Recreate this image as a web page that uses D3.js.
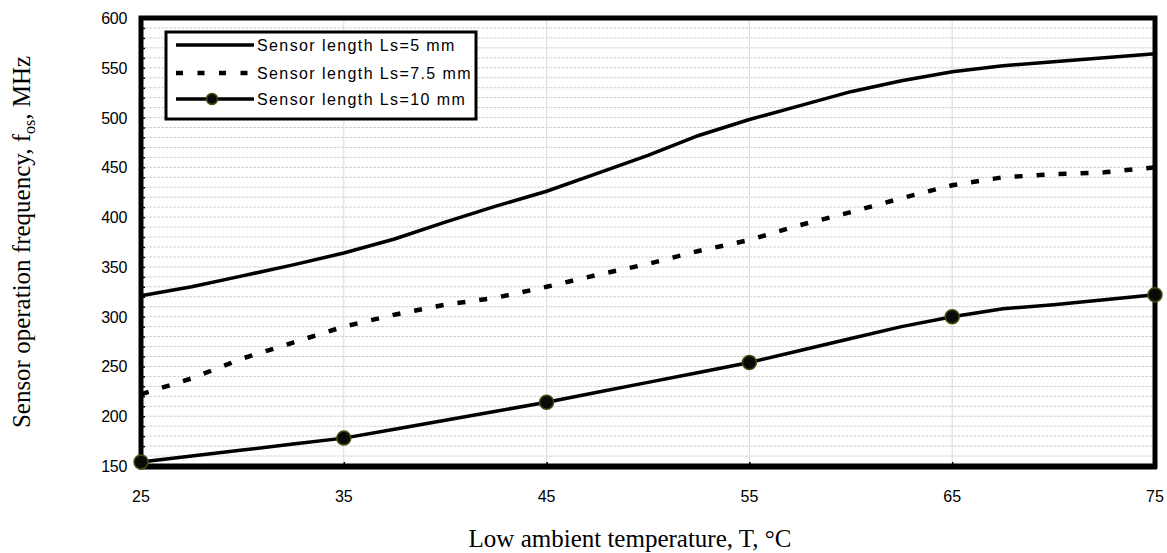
<!DOCTYPE html>
<html>
<head>
<meta charset="utf-8">
<script src="https://cdn.jsdelivr.net/npm/d3@7"></script>
<style>
  html, body { margin: 0; padding: 0; background: #fff; }
  svg { display: block; }
</style>
</head>
<body>
<svg id="chart" width="1167" height="553"></svg>
<script>
// ---- data ----
const temperatures = [25, 27.5, 30, 32.5, 35, 37.5, 40, 42.5, 45, 47.5, 50, 52.5, 55, 57.5, 60, 62.5, 65, 67.5, 70, 72.5, 75];
const freqLs5   = [321, 330, 341, 352, 364, 378, 395, 411, 426, 444, 462, 482, 498, 512, 526, 537, 546, 552, 556, 560, 564];
const freqLs7_5 = [222, 238, 258, 274, 290, 302, 312, 319, 330, 342, 353, 366, 377, 392, 405, 419, 432, 440, 443, 445, 450];
const freqLs10  = [154, 160, 166, 172, 178, 187, 196, 205, 214, 224, 234, 244, 254, 266, 278, 290, 300, 308, 312, 317, 322];
const markerTemps = [25, 35, 45, 55, 65, 75];
const xTicks = [25, 35, 45, 55, 65, 75];
const yTicks = [150, 200, 250, 300, 350, 400, 450, 500, 550, 600];
const seriesNames = ["Sensor length Ls=5 mm", "Sensor length Ls=7.5 mm", "Sensor length Ls=10 mm"];

const svg = d3.select("#chart");
const L = 141, R = 1155, T = 18, B = 466;

const x = d3.scaleLinear().domain([25, 75]).range([L, R]);
const y = d3.scaleLinear().domain([150, 600]).range([B, T]);

// gridlines
const minor = d3.range(160, 600, 10);
svg.append("g").selectAll("line").data(minor).join("line")
  .attr("x1", L).attr("x2", R)
  .attr("y1", d => y(d)).attr("y2", d => y(d))
  .attr("stroke", "#d2d2d2").attr("stroke-width", 1)
  .attr("stroke-dasharray", "3,1");
svg.append("g").selectAll("line").data(xTicks.slice(1, -1)).join("line")
  .attr("x1", d => x(d)).attr("x2", d => x(d))
  .attr("y1", T).attr("y2", B)
  .attr("stroke", "#dadada").attr("stroke-width", 1);

// axes ticks (inside)
const yAxis = d3.axisRight(y).tickValues(d3.range(150, 601, 10)).tickSize(4).tickFormat("");
svg.append("g").attr("transform", `translate(${L},0)`).call(yAxis)
  .call(g => g.select(".domain").remove())
  .call(g => g.selectAll("line").attr("stroke", "#000").attr("stroke-width", 1.5));
const xAxis = d3.axisTop(x).tickValues(xTicks).tickSize(4).tickFormat("");
svg.append("g").attr("transform", `translate(0,${B})`).call(xAxis)
  .call(g => g.select(".domain").remove())
  .call(g => g.selectAll("line").attr("stroke", "#000").attr("stroke-width", 1.5));

// tick labels
svg.append("g").selectAll("text").data(yTicks).join("text")
  .attr("x", 127).attr("y", d => y(d) + 6)
  .attr("text-anchor", "end")
  .attr("font-family", "Liberation Sans, Arial, sans-serif")
  .attr("font-size", 16)
  .attr("letter-spacing", "-0.3")
  .text(d => d);
svg.append("g").selectAll("text").data(xTicks).join("text")
  .attr("x", d => x(d)).attr("y", 502)
  .attr("text-anchor", "middle")
  .attr("font-family", "Liberation Sans, Arial, sans-serif")
  .attr("font-size", 16)
  .text(d => d);

// series
const line = d3.line().x(d => x(d[0])).y(d => y(d[1]));
const s1 = temperatures.map((t, i) => [t, freqLs5[i]]);
const s2 = temperatures.map((t, i) => [t, freqLs7_5[i]]);
const s3 = temperatures.map((t, i) => [t, freqLs10[i]]);

svg.append("path").datum(s1).attr("d", line)
  .attr("fill", "none").attr("stroke", "#000").attr("stroke-width", 3.5);
svg.append("path").datum(s2).attr("d", line)
  .attr("fill", "none").attr("stroke", "#000").attr("stroke-width", 4.5)
  .attr("stroke-dasharray", "8,14");
svg.append("path").datum(s3).attr("d", line)
  .attr("fill", "none").attr("stroke", "#000").attr("stroke-width", 3.5);

// frame
svg.append("rect").attr("x", L).attr("y", T).attr("width", R - L).attr("height", B - T)
  .attr("fill", "none").attr("stroke", "#000").attr("stroke-width", 5);
svg.append("line").attr("x1", L - 2).attr("x2", R + 2).attr("y1", B + 1).attr("y2", B + 1)
  .attr("stroke", "#000").attr("stroke-width", 5);

// markers (on top of frame)
const markers = markerTemps.map(t => [t, freqLs10[temperatures.indexOf(t)]]);
svg.append("g").selectAll("circle").data(markers).join("circle")
  .attr("cx", d => x(d[0])).attr("cy", d => y(d[1])).attr("r", 7)
  .attr("fill", "#0a0a0a").attr("stroke", "#4a4a10").attr("stroke-width", 1.5);

// legend
const lg = svg.append("g");
lg.append("rect").attr("x", 166).attr("y", 32).attr("width", 310).attr("height", 87)
  .attr("fill", "#fff").attr("stroke", "#000").attr("stroke-width", 3);
const rowsY = [45, 73, 99];
const styles = [
  {dash: null, w: 3.5, marker: false},
  {dash: "7,14.5", w: 4.5, marker: false},
  {dash: null, w: 3.5, marker: true}
];
seriesNames.forEach((name, i) => {
  const ly = rowsY[i];
  const ln = lg.append("line").attr("x1", 176).attr("x2", 254).attr("y1", ly).attr("y2", ly)
    .attr("stroke", "#000").attr("stroke-width", styles[i].w);
  if (styles[i].dash) ln.attr("stroke-dasharray", styles[i].dash);
  if (styles[i].marker) {
    lg.append("circle").attr("cx", 212).attr("cy", ly).attr("r", 5.5)
      .attr("fill", "#0a0a0a").attr("stroke", "#4a4a10").attr("stroke-width", 1.5);
  }
  lg.append("text").attr("x", 257).attr("y", ly + 6)
    .attr("font-family", "Liberation Sans, Arial, sans-serif")
    .attr("font-size", 16).attr("letter-spacing", "1.4")
    .text(name);
});

// axis titles
svg.append("text").attr("x", 630).attr("y", 547)
  .attr("text-anchor", "middle")
  .attr("font-family", "Liberation Serif, Times New Roman, serif")
  .attr("font-size", 25)
  .text("Low ambient temperature, T, °C");

const yt = svg.append("text")
  .attr("transform", "translate(30,242) rotate(-90)")
  .attr("text-anchor", "middle")
  .attr("font-family", "Liberation Serif, Times New Roman, serif")
  .attr("font-size", 25);
yt.append("tspan").text("Sensor operation frequency, f");
yt.append("tspan").attr("font-size", 16).attr("dy", 5).text("os");
yt.append("tspan").attr("dy", -5).text(", MHz");
</script>
</body>
</html>
